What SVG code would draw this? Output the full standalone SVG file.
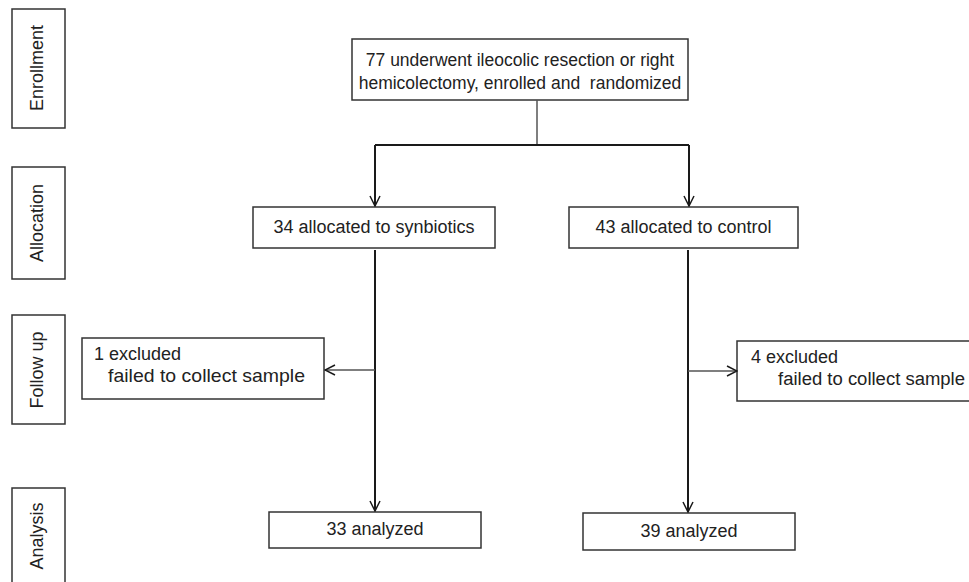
<svg xmlns="http://www.w3.org/2000/svg" width="969" height="582" viewBox="0 0 969 582">
<style>
.box{fill:#fff;stroke:#333;stroke-width:1.5}
.t{font-family:"Liberation Sans",Arial,sans-serif;font-size:18px;fill:#222;white-space:pre}
.m{text-anchor:middle}
.c{fill:none;stroke:#1a1a1a;stroke-width:2}
.c1{fill:none;stroke:#555;stroke-width:1.5}
</style>
<defs>
<marker id="ar" viewBox="0 0 12 12" refX="11" refY="6" markerWidth="12" markerHeight="12" markerUnits="userSpaceOnUse" orient="auto">
<path d="M1,1 L11,6 L1,11" fill="none" stroke="#1a1a1a" stroke-width="1.5"/>
</marker>
</defs>
<rect width="969" height="582" fill="#fff"/>
<g id="stage-enrollment">
<rect class="box" x="12" y="9" width="53" height="119"/>
<text class="t m" transform="translate(43,68) rotate(-90)">Enrollment</text>
</g>
<g id="stage-allocation">
<rect class="box" x="12" y="167" width="53" height="112"/>
<text class="t m" transform="translate(43,223) rotate(-90)">Allocation</text>
</g>
<g id="stage-followup">
<rect class="box" x="12" y="315" width="53" height="109"/>
<text class="t m" transform="translate(43,370) rotate(-90)">Follow up</text>
</g>
<g id="stage-analysis">
<rect class="box" x="12" y="488" width="53" height="100"/>
<text class="t m" transform="translate(43,536) rotate(-90)">Analysis</text>
</g>
<g id="enrolled">
<rect class="box" x="352" y="39" width="336" height="61"/>
<text class="t m" x="520" y="66" style="font-size:17.5px">77 underwent ileocolic resection or right</text>
<text class="t m" x="520" y="89" style="font-size:17.5px">hemicolectomy, enrolled and  randomized</text>
</g>
<g id="alloc-synbiotics">
<rect class="box" x="253" y="207" width="242" height="41"/>
<text class="t m" x="374" y="233">34 allocated to synbiotics</text>
</g>
<g id="alloc-control">
<rect class="box" x="569" y="207" width="229" height="41"/>
<text class="t m" x="683.5" y="233">43 allocated to control</text>
</g>
<g id="excluded-synbiotics">
<rect class="box" x="82" y="338" width="242" height="61"/>
<text class="t" x="94" y="360">1 excluded</text>
<text class="t" x="108" y="382" style="font-size:19px" textLength="197" lengthAdjust="spacingAndGlyphs">failed to collect sample</text>
</g>
<g id="excluded-control">
<rect class="box" x="737" y="341" width="240" height="60"/>
<text class="t" x="751" y="363">4 excluded</text>
<text class="t" x="778" y="385" textLength="187" lengthAdjust="spacingAndGlyphs">failed to collect sample</text>
</g>
<g id="analyzed-synbiotics">
<rect class="box" x="269" y="512" width="212" height="36"/>
<text class="t m" x="375" y="535">33 analyzed</text>
</g>
<g id="analyzed-control">
<rect class="box" x="583" y="513" width="212" height="37"/>
<text class="t m" x="689" y="537">39 analyzed</text>
</g>
<g id="connectors">
<path class="c1" d="M537,100 V145"/>
<path class="c" d="M375,145 H689"/>
<path class="c" d="M375,145 V206" marker-end="url(#ar)"/>
<path class="c" d="M689,145 V206" marker-end="url(#ar)"/>
<path class="c" d="M375,250 V511" marker-end="url(#ar)"/>
<path class="c1" d="M375,370 H325" marker-end="url(#ar)"/>
<path class="c" d="M688,250 V512" marker-end="url(#ar)"/>
<path class="c1" d="M688,371 H737" marker-end="url(#ar)"/>
</g>
</svg>
